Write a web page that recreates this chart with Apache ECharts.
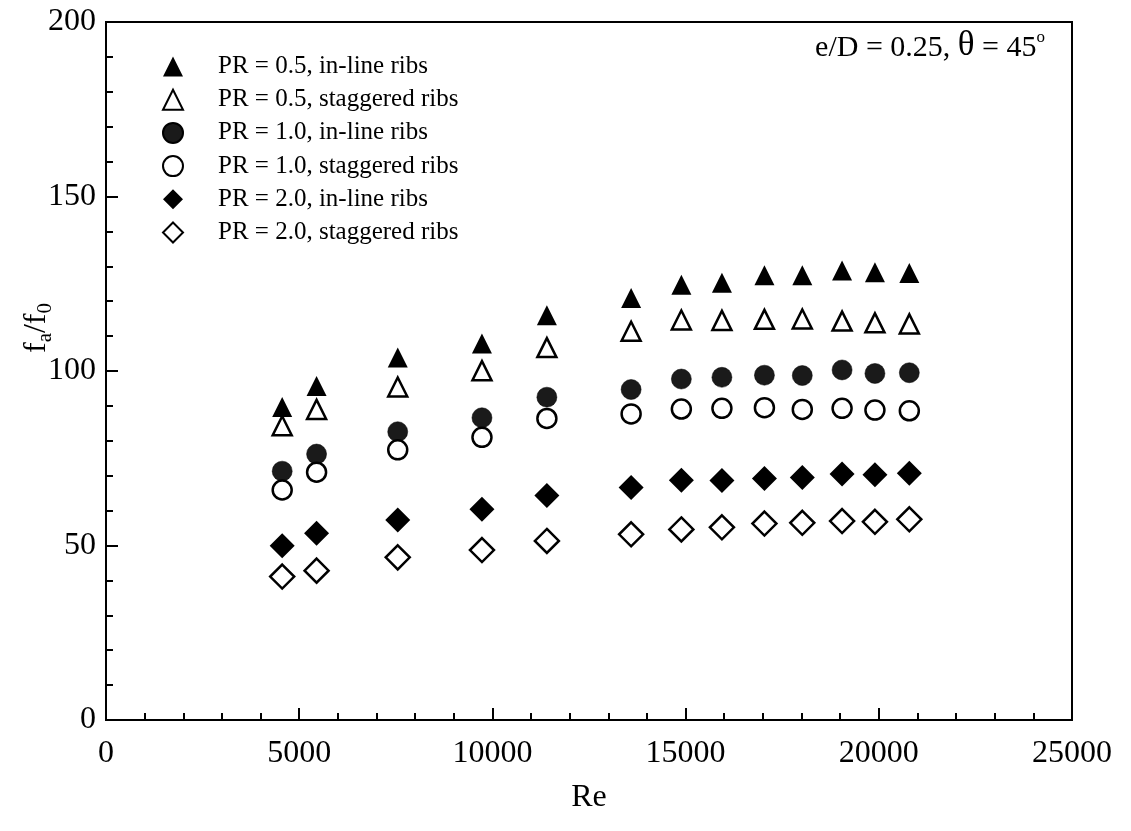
<!DOCTYPE html>
<html>
<head>
<meta charset="utf-8">
<script src="https://cdn.jsdelivr.net/npm/echarts@6/dist/echarts.min.js"></script>
<style>
  html, body { margin: 0; padding: 0; background: #fff; }
  #chart { width: 1131px; height: 831px; }
</style>
</head>
<body>
<div id="chart"></div>
<script>
// Reynolds numbers shared by every data set
var reynolds = [4560, 5450, 7550, 9730, 11410, 13590, 14890, 15940, 17040, 18020, 19050, 19900, 20790];

// Friction factor ratio f_a/f_0 for each rib arrangement
var pr05Inline    = [89.7, 95.7, 103.9, 107.9, 116.0, 120.9, 124.7, 125.3, 127.4, 127.4, 128.8, 128.3, 128.1];
var pr05Staggered = [84.3, 89.0, 95.4, 100.1, 106.7, 111.4, 114.6, 114.5, 114.8, 114.9, 114.3, 113.8, 113.5];
var pr10Inline    = [71.3, 76.2, 82.6, 86.6, 92.5, 94.7, 97.7, 98.2, 98.8, 98.7, 100.3, 99.3, 99.5];
var pr10Staggered = [65.9, 71.0, 77.4, 81.0, 86.4, 87.7, 89.1, 89.3, 89.5, 89.0, 89.3, 88.8, 88.6];
var pr20Inline    = [49.9, 53.5, 57.3, 60.4, 64.3, 66.6, 68.7, 68.6, 69.2, 69.5, 70.5, 70.3, 70.7];
var pr20Staggered = [41.1, 42.8, 46.6, 48.7, 51.3, 53.2, 54.6, 55.2, 56.3, 56.5, 57.0, 56.8, 57.5];

var seriesNames = [
  'PR = 0.5, in-line ribs',
  'PR = 0.5, staggered ribs',
  'PR = 1.0, in-line ribs',
  'PR = 1.0, staggered ribs',
  'PR = 2.0, in-line ribs',
  'PR = 2.0, staggered ribs'
];

var FONT = '"Liberation Serif", "Times New Roman", serif';

function pairs(values) {
  return values.map(function (v, i) { return [reynolds[i], v]; });
}

var filled = { color: '#000', borderColor: '#000', borderWidth: 0, opacity: 1 };
var filledDot = { color: '#1a1a1a', borderColor: '#000', borderWidth: 0.5, opacity: 1 };
var hollow = { color: '#fff', borderColor: '#000', borderWidth: 2.5, opacity: 1 };

function scatter(name, values, symbol, size, style) {
  return {
    name: name,
    type: 'scatter',
    data: pairs(values),
    symbol: symbol,
    symbolSize: size,
    symbolKeepAspect: true,
    itemStyle: style,
    emphasis: { disabled: true },
    z: 3
  };
}

var chart = echarts.init(document.getElementById('chart'), null, { renderer: 'canvas' });

chart.setOption({
  animation: false,
  backgroundColor: '#fff',
  grid: {
    left: 106, right: 59, top: 22, bottom: 111,
    containLabel: false,
    outerBoundsMode: 'none',
    show: true, borderColor: '#000', borderWidth: 2, backgroundColor: 'transparent'
  },
  legend: {
    orient: 'vertical',
    left: 157, top: 49,
    itemWidth: 20, itemHeight: 20, itemGap: 8.2,
    selectedMode: false,
    formatter: function (name) { return '{gap|}' + name; },
    textStyle: {
      fontFamily: FONT, fontSize: 25, color: '#000',
      rich: { gap: { width: 30 } }
    },
    data: seriesNames
  },
  xAxis: {
    type: 'value',
    min: 0, max: 25000, interval: 5000,
    name: 'Re',
    nameLocation: 'middle',
    nameGap: 62,
    nameMoveOverlap: false,
    nameTextStyle: { fontFamily: FONT, fontSize: 32, color: '#000' },
    axisLine: { lineStyle: { color: '#000', width: 2 } },
    axisTick: { inside: true, length: 12, lineStyle: { color: '#000', width: 2 } },
    minorTick: { show: true, splitNumber: 5, length: 7, lineStyle: { color: '#000', width: 2 } },
    splitLine: { show: false },
    axisLabel: {
      fontFamily: FONT, fontSize: 32, color: '#000', margin: 18,
      formatter: function (v) { return String(v); }
    }
  },
  yAxis: {
    type: 'value',
    min: 0, max: 200, interval: 50,
    axisLine: { lineStyle: { color: '#000', width: 2 } },
    axisTick: { inside: true, length: 12, lineStyle: { color: '#000', width: 2 } },
    minorTick: { show: true, splitNumber: 5, length: 7, lineStyle: { color: '#000', width: 2 } },
    splitLine: { show: false },
    axisLabel: { fontFamily: FONT, fontSize: 32, color: '#000', margin: 10 }
  },
  graphic: [{
    // rotated y-axis title f_a/f_0, sitting just above the "100" label
    type: 'text',
    x: 37, y: 328,
    rotation: Math.PI / 2,
    style: {
      text: '{f|f}{s|a}{f|/f}{s|0}',
      align: 'center',
      verticalAlign: 'middle',
      rich: {
        f: { fontFamily: FONT, fontSize: 32, fill: '#000', verticalAlign: 'top', lineHeight: 32 },
        s: { fontFamily: FONT, fontSize: 21, fill: '#000', verticalAlign: 'top', lineHeight: 21, padding: [14, 0, 0, 0] }
      }
    }
  }, {
    type: 'text',
    right: 86, top: 28,
    style: {
      text: '{t|e/D = 0.25, }{g|θ}{t| = 45}{d|o}',
      rich: {
        t: { fontFamily: FONT, fontSize: 30, fill: '#000', verticalAlign: 'bottom', lineHeight: 34 },
        g: { fontFamily: FONT, fontSize: 35, fill: '#000', verticalAlign: 'bottom', lineHeight: 34 },
        d: { fontFamily: FONT, fontSize: 17, fill: '#000', verticalAlign: 'top', lineHeight: 17 }
      }
    }
  }],
  series: [
    scatter(seriesNames[0], pr05Inline, 'triangle', 20, filled),
    scatter(seriesNames[1], pr05Staggered, 'triangle', 19, hollow),
    scatter(seriesNames[2], pr10Inline, 'circle', 20, filledDot),
    scatter(seriesNames[3], pr10Staggered, 'circle', 19, hollow),
    scatter(seriesNames[4], pr20Inline, 'diamond', 25, filled),
    scatter(seriesNames[5], pr20Staggered, 'diamond', 24, hollow)
  ]
});
</script>
</body>
</html>
